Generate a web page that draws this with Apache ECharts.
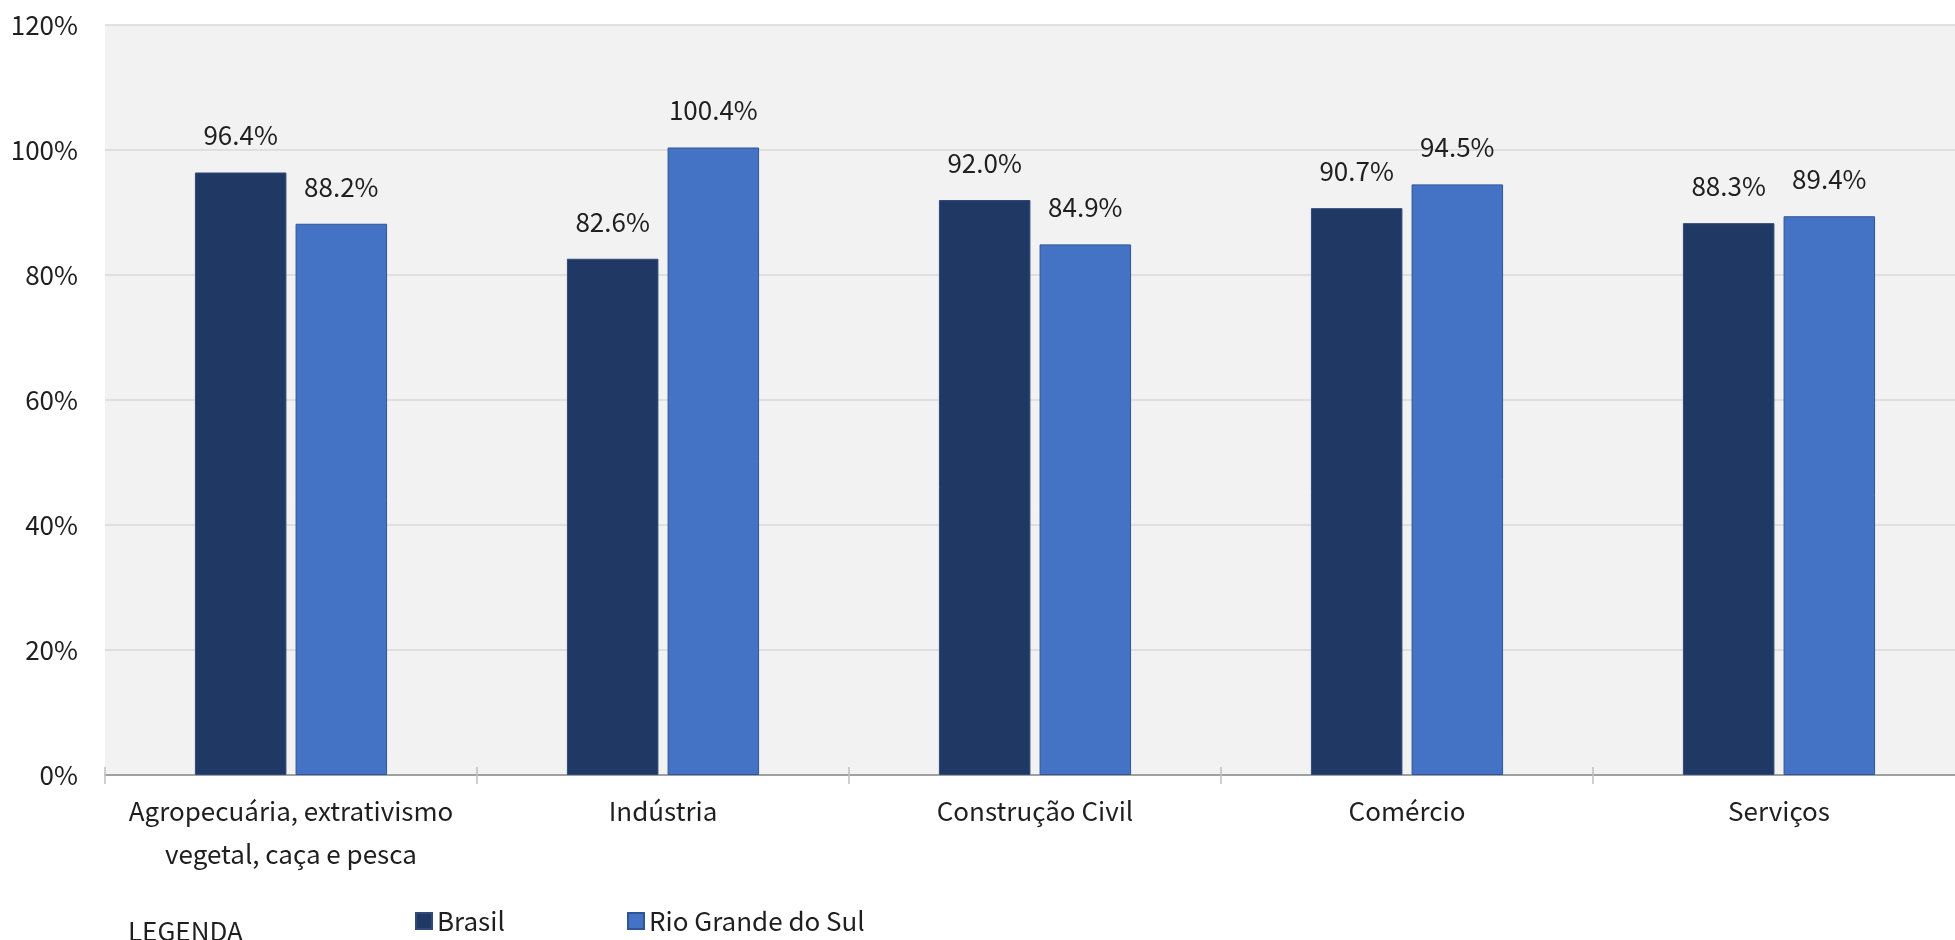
<!DOCTYPE html>
<html>
<head>
<meta charset="utf-8">
<script src="https://cdn.jsdelivr.net/npm/echarts@6/dist/echarts.min.js"></script>
<style>
html,body{margin:0;padding:0;background:#fff;}
#chart{width:1955px;height:940px;}
</style>
</head>
<body>
<div id="chart"></div>
<script>
const categories = [
  'Agropecuária, extrativismo\nvegetal, caça e pesca',
  'Indústria',
  'Construção Civil',
  'Comércio',
  'Serviços'
];
const brasil = [96.4, 82.6, 92.0, 90.7, 88.3];
const rioGrandeDoSul = [88.2, 100.4, 84.9, 94.5, 89.4];
const yTicks = [0, 20, 40, 60, 80, 100, 120];
const legendTitle = 'LEGENDA';

const FONT = '"Noto Sans CJK JP", "Noto Sans", sans-serif';
const TXT = '#1F1F1F';
const FS = 26;

const chart = echarts.init(document.getElementById('chart'));
const labelOpt = {
  show: true,
  position: 'top',
  distance: 24,
  color: TXT,
  fontFamily: FONT,
  fontSize: FS,
  formatter: p => p.value.toFixed(1) + '%'
};
const legendText = { color: TXT, fontSize: FS, fontFamily: FONT };
chart.setOption({
  animation: false,
  textStyle: { fontFamily: FONT },
  grid: {
    left: 105, width: 1860, top: 25, bottom: 165,
    outerBoundsMode: 'none', containLabel: false,
    show: true, backgroundColor: '#F2F2F2', borderWidth: 0
  },
  legend: [
    {
      data: ['Brasil'], left: 415, top: 908, padding: 0,
      icon: 'rect', itemWidth: 16, itemHeight: 16, itemGap: 0,
      textStyle: legendText
    },
    {
      data: ['Rio Grande do Sul'], left: 627, top: 908, padding: 0,
      icon: 'rect', itemWidth: 16, itemHeight: 16, itemGap: 0,
      textStyle: legendText
    }
  ],
  graphic: [{
    type: 'text', left: 128, top: 918,
    style: { text: legendTitle, fill: TXT, font: FS + 'px ' + FONT }
  }],
  xAxis: [
    {
      type: 'category',
      data: categories,
      axisLine: { lineStyle: { color: '#8C8C8C', width: 1.5 } },
      axisTick: { show: true, interval: 0, length: 9, lineStyle: { color: '#BFBFBF', width: 1.5 } },
      axisLabel: { interval: 0, color: TXT, fontSize: FS, fontFamily: FONT, margin: 15, lineHeight: 43 }
    },
    {
      type: 'category',
      data: categories,
      position: 'bottom',
      axisLine: { show: false },
      axisTick: { show: true, interval: 0, inside: true, length: 8, lineStyle: { color: '#BFBFBF', width: 1.5 } },
      axisLabel: { show: false }
    }
  ],
  yAxis: {
    type: 'value', min: 0, max: 120, interval: 20,
    axisLine: { show: false }, axisTick: { show: false },
    splitLine: { lineStyle: { color: '#D9D9D9', width: 1.5 } },
    axisLabel: {
      color: TXT, fontSize: FS, fontFamily: FONT, margin: 27,
      formatter: v => yTicks.includes(v) ? v + '%' : ''
    }
  },
  series: [
    {
      name: 'Brasil', type: 'bar', data: brasil,
      barWidth: '24.6%', barGap: '10%',
      itemStyle: { color: '#203864', borderColor: '#2F4A78', borderWidth: 1 },
      label: labelOpt
    },
    {
      name: 'Rio Grande do Sul', type: 'bar', data: rioGrandeDoSul,
      barWidth: '24.6%', barGap: '10%',
      itemStyle: { color: '#4472C4', borderColor: '#2F5597', borderWidth: 1 },
      label: labelOpt
    }
  ]
});
</script>
</body>
</html>
